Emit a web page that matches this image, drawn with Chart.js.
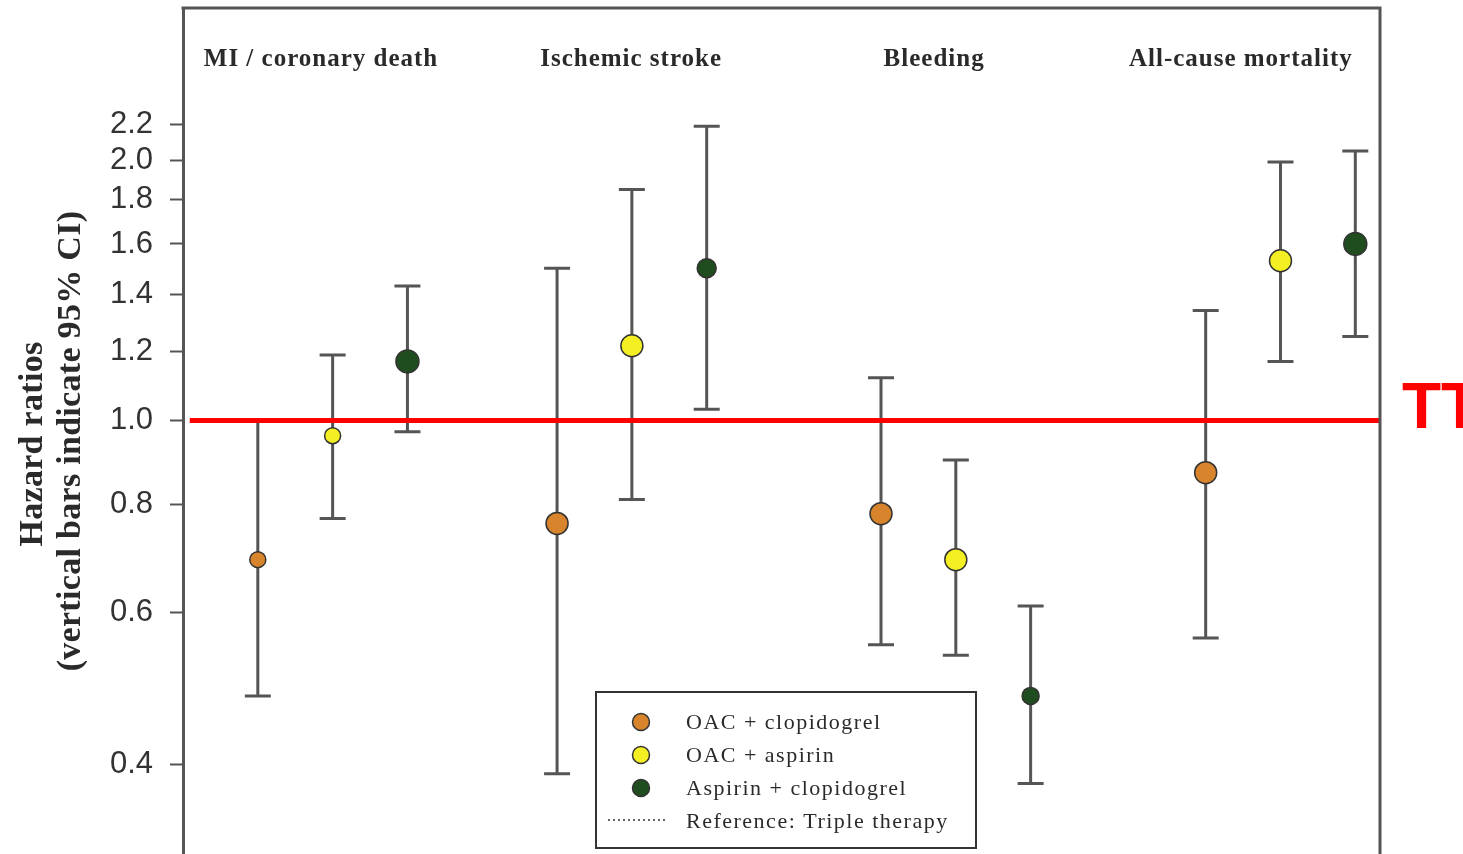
<!DOCTYPE html>
<html>
<head>
<meta charset="utf-8">
<script src="https://cdn.jsdelivr.net/npm/chart.js@4"></script>
<style>
  body { margin: 0; background: #fff; }
</style>
</head>
<body>
<canvas id="hr" width="1463" height="854"></canvas>
<script>
const outcomes = ["MI / coronary death", "Ischemic stroke", "Bleeding", "All-cause mortality"];
const regimens = ["OAC + clopidogrel", "OAC + aspirin", "Aspirin + clopidogrel"];
const referenceLabel = "Reference: Triple therapy";

// x slot of each regimen inside the four outcome groups
const xOacClop = [1, 5, 9.33, 13.67];
const xOacAsp = [2, 6, 10.33, 14.67];
const xAspClop = [3, 7, 11.33, 15.67];

// hazard ratios with lower / upper 95% CI, one per outcome
const hrOacClop = [0.69, 0.76, 0.78, 0.87];
const loOacClop = [0.48, 0.39, 0.55, 0.56];
const hiOacClop = [1.0, 1.5, 1.12, 1.34];

const hrOacAsp = [0.96, 1.22, 0.69, 1.53];
const loOacAsp = [0.77, 0.81, 0.535, 1.17];
const hiOacAsp = [1.19, 1.85, 0.9, 1.99];

const hrAspClop = [1.17, 1.5, 0.48, 1.6];
const loAspClop = [0.97, 1.03, 0.38, 1.25];
const hiAspClop = [1.43, 2.19, 0.61, 2.05];

const yTicks = [0.4, 0.6, 0.8, 1.0, 1.2, 1.4, 1.6, 1.8, 2.0, 2.2];

// styling
const colors = ["#d8842c", "#f4ef22", "#1f4d1f"];
const radii = [
  [8, 11, 11, 11],
  [8, 11, 11, 11],
  [11.5, 9.5, 8.5, 11.5],
];
const titleX = [1.845, 5.99, 10.04, 14.14]; // where the outcome headings sit on the x axis

function points(xs, hr, lo, hi) {
  return xs.map((x, i) => ({ x, y: hr[i], lo: lo[i], hi: hi[i] }));
}

const series = [
  points(xOacClop, hrOacClop, loOacClop, hiOacClop),
  points(xOacAsp, hrOacAsp, loOacAsp, hiOacAsp),
  points(xAspClop, hrAspClop, loAspClop, hiAspClop),
];

const datasets = series.map((data, k) => ({
  label: regimens[k],
  data,
  pointBackgroundColor: colors[k],
  pointBorderColor: "#333",
  pointBorderWidth: 1.5,
  pointRadius: radii[k],
  errorBars: true,
}));

// triple therapy reference at HR = 1
datasets.push({
  label: referenceLabel,
  data: [{ x: 0.09, y: 1 }, { x: 16, y: 1 }],
  showLine: true,
  borderColor: "#ff0000",
  borderWidth: 5,
  pointRadius: 0,
});

const errorBars = {
  id: "errorBars",
  beforeDatasetsDraw(chart) {
    const ctx = chart.ctx;
    const y = chart.scales.y;
    ctx.save();
    ctx.strokeStyle = "#555";
    ctx.lineWidth = 3;
    chart.data.datasets.forEach((ds, di) => {
      if (!ds.errorBars) return;
      chart.getDatasetMeta(di).data.forEach((pt, i) => {
        const top = y.getPixelForValue(ds.data[i].hi);
        const bot = y.getPixelForValue(ds.data[i].lo);
        ctx.beginPath();
        ctx.moveTo(pt.x, top);
        ctx.lineTo(pt.x, bot);
        ctx.moveTo(pt.x - 13, top);
        ctx.lineTo(pt.x + 13, top);
        ctx.moveTo(pt.x - 13, bot);
        ctx.lineTo(pt.x + 13, bot);
        ctx.stroke();
      });
    });
    ctx.restore();
  },
};

const decorations = {
  id: "decorations",
  afterDraw(chart) {
    const ctx = chart.ctx;
    const a = chart.chartArea;
    const x = chart.scales.x;
    ctx.save();

    // top and right frame
    ctx.strokeStyle = "#555";
    ctx.lineWidth = 3;
    ctx.beginPath();
    ctx.moveTo(a.left - 1.5, a.top);
    ctx.lineTo(a.right, a.top);
    ctx.lineTo(a.right, a.bottom);
    ctx.stroke();

    // outcome headings
    ctx.fillStyle = "#2a2a2a";
    ctx.font = 'bold 25px "Liberation Serif"';
    ctx.letterSpacing = "1px";
    ctx.textAlign = "center";
    ctx.textBaseline = "alphabetic";
    outcomes.forEach((t, i) => ctx.fillText(t, x.getPixelForValue(titleX[i]), 66));

    // y axis title, two rotated lines
    ctx.letterSpacing = "0.3px";
    ctx.font = 'bold 34px "Liberation Serif"';
    ctx.save();
    ctx.translate(42, 444);
    ctx.rotate(-Math.PI / 2);
    ctx.fillText("Hazard ratios", 0, 0);
    ctx.restore();
    ctx.save();
    ctx.translate(80, 441);
    ctx.rotate(-Math.PI / 2);
    ctx.fillText("(vertical bars indicate 95% CI)", 0, 0);
    ctx.restore();

    // legend box
    ctx.strokeStyle = "#333";
    ctx.lineWidth = 2;
    ctx.fillStyle = "#fff";
    ctx.fillRect(596, 692, 380, 156);
    ctx.strokeRect(596, 692, 380, 156);
    ctx.textAlign = "left";
    ctx.font = '22px "Liberation Serif"';
    ctx.letterSpacing = "1.5px";
    regimens.forEach((label, k) => {
      const rowY = 722 + k * 33;
      ctx.beginPath();
      ctx.arc(641, rowY, 8.5, 0, Math.PI * 2);
      ctx.fillStyle = colors[k];
      ctx.fill();
      ctx.lineWidth = 1.5;
      ctx.strokeStyle = "#333";
      ctx.stroke();
      ctx.fillStyle = "#2a2a2a";
      ctx.fillText(label, 686, rowY + 7);
    });
    ctx.strokeStyle = "#666";
    ctx.lineWidth = 2;
    ctx.setLineDash([2, 3]);
    ctx.beginPath();
    ctx.moveTo(608, 820);
    ctx.lineTo(667, 820);
    ctx.stroke();
    ctx.setLineDash([]);
    ctx.fillStyle = "#2a2a2a";
    ctx.fillText(referenceLabel, 686, 828);

    // TT marker at the reference line
    ctx.letterSpacing = "0px";
    ctx.fillStyle = "#ff0000";
    ctx.font = 'bold 64px "Liberation Sans"';
    ctx.fillText("TT", 1402, 428);

    ctx.restore();
  },
};

new Chart(document.getElementById("hr"), {
  type: "scatter",
  data: { datasets },
  plugins: [errorBars, decorations],
  options: {
    responsive: false,
    animation: false,
    layout: { autoPadding: false, padding: { left: 0, top: 8, right: 83, bottom: 0 } },
    plugins: { legend: { display: false }, tooltip: { enabled: false } },
    scales: {
      x: { type: "linear", min: 0, max: 16, display: false },
      y: {
        type: "logarithmic",
        bounds: "data",
        min: 0.315,
        max: 3.0,
        afterFit: (scale) => {
          scale.width = 183;
          scale.paddingTop = 0;
          scale.paddingBottom = 0;
        },
        afterBuildTicks: (scale) => { scale.ticks = yTicks.map((v) => ({ value: v })); },
        border: { display: true, color: "#555", width: 3 },
        grid: { drawOnChartArea: false, tickLength: 13, tickWidth: 2, tickColor: "#555" },
        ticks: {
          autoSkip: false,
          padding: 17,
          color: "#333",
          font: { family: "Liberation Sans", size: 31 },
          callback: (v) => Number(v).toFixed(1),
        },
      },
    },
  },
});
</script>
</body>
</html>
